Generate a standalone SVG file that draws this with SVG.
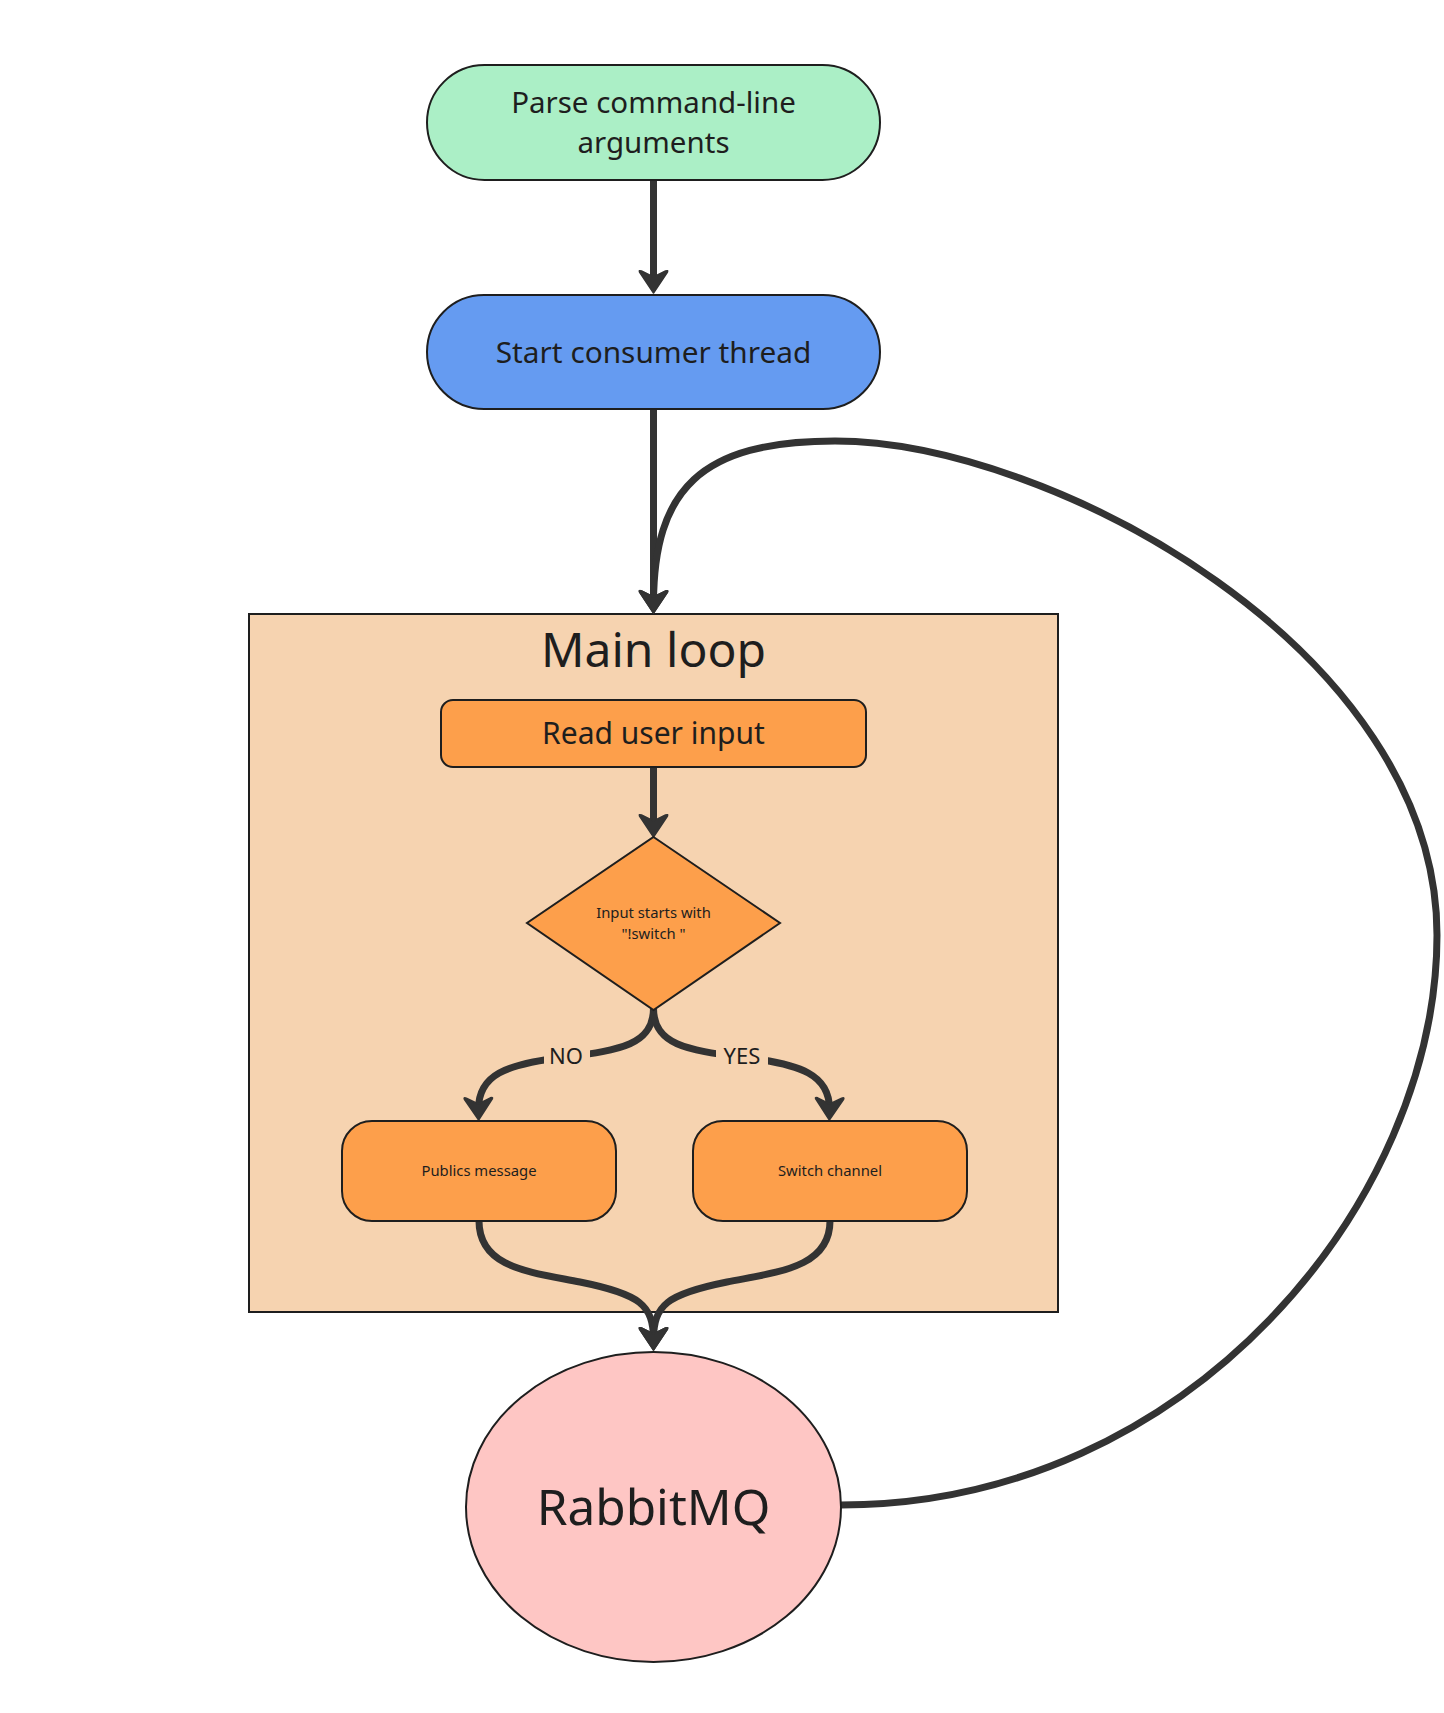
<svg xmlns="http://www.w3.org/2000/svg" width="1444" height="1713" viewBox="0 0 1444 1713">
<defs>
<style>
.node{stroke:#1e1e1e;stroke-width:2}
.t{font-family:"Noto Sans","Open Sans","DejaVu Sans",sans-serif;fill:#1e1e1e;text-anchor:middle}
.edge{fill:none;stroke:#333333;stroke-width:7}
.lblbg{fill:#f6d3b0}
</style>
<marker id="arr" viewBox="-14 -17 26 34" markerWidth="26" markerHeight="34" refX="0" refY="0" orient="auto" markerUnits="userSpaceOnUse">
<path d="M10 0 L-11 -14 Q-13 -15 -12 -12 L-6 0 L-12 12 Q-13 15 -11 14 Z" fill="#333333" stroke="#333333" stroke-width="1.5" stroke-linejoin="round"/>
</marker>
</defs>
<rect width="1444" height="1713" fill="#ffffff"/>
<g id="container-main-loop">
<rect x="249" y="614" width="809" height="698" fill="#f6d3b0" class="node"/>
<text class="t" x="653.5" y="667" font-size="48">Main loop</text>
</g>
<g id="edges">
<path class="edge" d="M653.5 180 L653.5 283" marker-end="url(#arr)"/>
<path class="edge" d="M653.5 409 L653.5 603" marker-end="url(#arr)"/>
<path class="edge" d="M841 1505 C1190 1505 1437 1200 1437 935 C1437 650 1050 441 835 441 C700 441 654 490 653.5 603" marker-end="url(#arr)"/>
<path class="edge" d="M653.5 767 L653.5 827" marker-end="url(#arr)"/>
<path class="edge" d="M653.5 1008 C653.5 1045 620 1050 566 1057 C505 1064 478 1075 478.5 1110" marker-end="url(#arr)"/>
<path class="edge" d="M653.5 1008 C653.5 1045 687 1050 741 1057 C802 1064 830 1075 829.5 1110" marker-end="url(#arr)"/>
<path class="edge" d="M479 1221 C479 1268 530 1272 580 1282 C640 1294 653.5 1305 653.5 1340" marker-end="url(#arr)"/>
<path class="edge" d="M830 1221 C830 1268 777 1272 727 1282 C667 1294 653.5 1305 653.5 1340" marker-end="url(#arr)"/>
<rect class="lblbg" x="544" y="1043" width="46" height="28"/>
<text class="t" x="566" y="1064" font-size="22" fill="#333333">NO</text>
<rect class="lblbg" x="716" y="1043" width="52" height="28"/>
<text class="t" x="742" y="1064" font-size="22" fill="#333333">YES</text>
</g>
<g id="node-parse">
<rect x="427" y="65" width="453" height="115" rx="57.5" fill="#abefc6" class="node"/>
<text class="t" x="653.5" y="113" font-size="29.5">Parse command-line</text>
<text class="t" x="653.5" y="153" font-size="29.5">arguments</text>
</g>
<g id="node-start">
<rect x="427" y="295" width="453" height="114" rx="57" fill="#659bf1" class="node"/>
<text class="t" x="653.5" y="363" font-size="29.8">Start consumer thread</text>
</g>
<g id="node-read">
<rect x="441" y="700" width="425" height="67" rx="12" fill="#fd9f4b" class="node"/>
<text class="t" x="653.5" y="744" font-size="30">Read user input</text>
</g>
<g id="node-decision">
<polygon points="653.5,837 780,923 653.5,1010 527,923" fill="#fd9f4b" class="node"/>
<text class="t" x="653.5" y="918" font-size="14.8">Input starts with</text>
<text class="t" x="653.5" y="939" font-size="14.8">"!switch "</text>
</g>
<g id="node-publish">
<rect x="342" y="1121" width="274" height="100" rx="30" fill="#fd9f4b" class="node"/>
<text class="t" x="479" y="1176" font-size="14.8">Publics message</text>
</g>
<g id="node-switch">
<rect x="693" y="1121" width="274" height="100" rx="30" fill="#fd9f4b" class="node"/>
<text class="t" x="830" y="1176" font-size="14.8">Switch channel</text>
</g>
<g id="node-rabbitmq">
<ellipse cx="653.5" cy="1507" rx="187.5" ry="155" fill="#fec6c4" class="node"/>
<text class="t" x="653.5" y="1525" font-size="49.5">RabbitMQ</text>
</g>
</svg>
